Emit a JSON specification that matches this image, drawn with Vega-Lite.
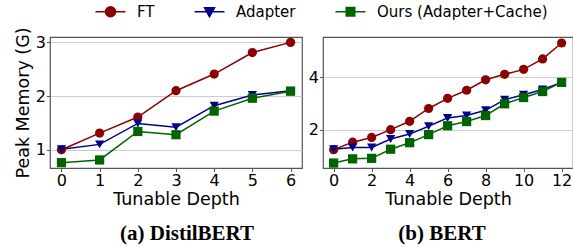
{
  "$schema": "https://vega.github.io/schema/vega-lite/v6.json",
  "padding": {"left": 13, "top": 4, "right": 0, "bottom": 2},
  "data": {"values": [
    {"model": "DistilBERT", "depth": 0, "method": "FT", "mem": 1.0},
    {"model": "DistilBERT", "depth": 1, "method": "FT", "mem": 1.31},
    {"model": "DistilBERT", "depth": 2, "method": "FT", "mem": 1.61},
    {"model": "DistilBERT", "depth": 3, "method": "FT", "mem": 2.1},
    {"model": "DistilBERT", "depth": 4, "method": "FT", "mem": 2.41},
    {"model": "DistilBERT", "depth": 5, "method": "FT", "mem": 2.81},
    {"model": "DistilBERT", "depth": 6, "method": "FT", "mem": 3.0},
    {"model": "DistilBERT", "depth": 0, "method": "Adapter", "mem": 1.01},
    {"model": "DistilBERT", "depth": 1, "method": "Adapter", "mem": 1.1},
    {"model": "DistilBERT", "depth": 2, "method": "Adapter", "mem": 1.49},
    {"model": "DistilBERT", "depth": 3, "method": "Adapter", "mem": 1.42},
    {"model": "DistilBERT", "depth": 4, "method": "Adapter", "mem": 1.82},
    {"model": "DistilBERT", "depth": 5, "method": "Adapter", "mem": 2.02},
    {"model": "DistilBERT", "depth": 6, "method": "Adapter", "mem": 2.1},
    {"model": "DistilBERT", "depth": 0, "method": "Ours (Adapter+Cache)", "mem": 0.76},
    {"model": "DistilBERT", "depth": 1, "method": "Ours (Adapter+Cache)", "mem": 0.81},
    {"model": "DistilBERT", "depth": 2, "method": "Ours (Adapter+Cache)", "mem": 1.34},
    {"model": "DistilBERT", "depth": 3, "method": "Ours (Adapter+Cache)", "mem": 1.28},
    {"model": "DistilBERT", "depth": 4, "method": "Ours (Adapter+Cache)", "mem": 1.72},
    {"model": "DistilBERT", "depth": 5, "method": "Ours (Adapter+Cache)", "mem": 1.96},
    {"model": "DistilBERT", "depth": 6, "method": "Ours (Adapter+Cache)", "mem": 2.09},
    {"model": "BERT", "depth": 0, "method": "FT", "mem": 1.23},
    {"model": "BERT", "depth": 1, "method": "FT", "mem": 1.52},
    {"model": "BERT", "depth": 2, "method": "FT", "mem": 1.7},
    {"model": "BERT", "depth": 3, "method": "FT", "mem": 2.0},
    {"model": "BERT", "depth": 4, "method": "FT", "mem": 2.32},
    {"model": "BERT", "depth": 5, "method": "FT", "mem": 2.81},
    {"model": "BERT", "depth": 6, "method": "FT", "mem": 3.2},
    {"model": "BERT", "depth": 7, "method": "FT", "mem": 3.51},
    {"model": "BERT", "depth": 8, "method": "FT", "mem": 3.91},
    {"model": "BERT", "depth": 9, "method": "FT", "mem": 4.12},
    {"model": "BERT", "depth": 10, "method": "FT", "mem": 4.31},
    {"model": "BERT", "depth": 11, "method": "FT", "mem": 4.71},
    {"model": "BERT", "depth": 12, "method": "FT", "mem": 5.32},
    {"model": "BERT", "depth": 0, "method": "Adapter", "mem": 1.25},
    {"model": "BERT", "depth": 1, "method": "Adapter", "mem": 1.32},
    {"model": "BERT", "depth": 2, "method": "Adapter", "mem": 1.32},
    {"model": "BERT", "depth": 3, "method": "Adapter", "mem": 1.64},
    {"model": "BERT", "depth": 4, "method": "Adapter", "mem": 1.83},
    {"model": "BERT", "depth": 5, "method": "Adapter", "mem": 2.13},
    {"model": "BERT", "depth": 6, "method": "Adapter", "mem": 2.45},
    {"model": "BERT", "depth": 7, "method": "Adapter", "mem": 2.54},
    {"model": "BERT", "depth": 8, "method": "Adapter", "mem": 2.74},
    {"model": "BERT", "depth": 9, "method": "Adapter", "mem": 3.15},
    {"model": "BERT", "depth": 10, "method": "Adapter", "mem": 3.34},
    {"model": "BERT", "depth": 11, "method": "Adapter", "mem": 3.54},
    {"model": "BERT", "depth": 12, "method": "Adapter", "mem": 3.81},
    {"model": "BERT", "depth": 0, "method": "Ours (Adapter+Cache)", "mem": 0.72},
    {"model": "BERT", "depth": 1, "method": "Ours (Adapter+Cache)", "mem": 0.88},
    {"model": "BERT", "depth": 2, "method": "Ours (Adapter+Cache)", "mem": 0.9},
    {"model": "BERT", "depth": 3, "method": "Ours (Adapter+Cache)", "mem": 1.25},
    {"model": "BERT", "depth": 4, "method": "Ours (Adapter+Cache)", "mem": 1.5},
    {"model": "BERT", "depth": 5, "method": "Ours (Adapter+Cache)", "mem": 1.81},
    {"model": "BERT", "depth": 6, "method": "Ours (Adapter+Cache)", "mem": 2.15},
    {"model": "BERT", "depth": 7, "method": "Ours (Adapter+Cache)", "mem": 2.31},
    {"model": "BERT", "depth": 8, "method": "Ours (Adapter+Cache)", "mem": 2.54},
    {"model": "BERT", "depth": 9, "method": "Ours (Adapter+Cache)", "mem": 2.99},
    {"model": "BERT", "depth": 10, "method": "Ours (Adapter+Cache)", "mem": 3.23},
    {"model": "BERT", "depth": 11, "method": "Ours (Adapter+Cache)", "mem": 3.46},
    {"model": "BERT", "depth": 12, "method": "Ours (Adapter+Cache)", "mem": 3.81}
  ]},
  "spacing": 21,
  "bounds": "flush",
  "hconcat": [
    {
      "width": 252,
      "height": 131,
      "title": {"text": "(a) DistilBERT", "orient": "bottom", "font": "Liberation Serif", "fontWeight": "bold", "fontSize": 21, "offset": 15, "dx": 11},
      "transform": [{"filter": "datum.model === 'DistilBERT'"}],
      "encoding": {
        "x": {"field": "depth", "type": "quantitative", "scale": {"domain": [-0.3, 6.3], "nice": false, "zero": false}, "axis": {"values": [0, 1, 2, 3, 4, 5, 6], "title": "Tunable Depth", "grid": false}},
        "y": {"field": "mem", "type": "quantitative", "scale": {"domain": [0.66, 3.1], "nice": false, "zero": false}, "axis": {"values": [1, 2, 3], "title": "Peak Memory (G)"}},
        "color": {"field": "method", "type": "nominal", "sort": ["FT", "Adapter", "Ours (Adapter+Cache)"], "legend": {"encode": {"symbols": {"update": {"shape": {"signal": "datum.value === 'FT' ? 'M-3,0H3M-1,0A1,1 0 1,0 1,0A1,1 0 1,0 -1,0Z' : datum.value === 'Adapter' ? 'M-3,0H3M-1,-0.8H1L0,1Z' : 'M-3,0H3M-0.85,-0.85H0.85V0.85H-0.85Z'"}, "stroke": {"signal": "datum.value === 'FT' ? '#8b0000' : datum.value === 'Adapter' ? '#00008b' : '#006400'"}, "fill": {"signal": "datum.value === 'FT' ? '#8b0000' : datum.value === 'Adapter' ? '#00008b' : '#006400'"}, "strokeWidth": {"value": 1.5}, "opacity": {"value": 1}}}}}}
      },
      "layer": [
        {"mark": {"type": "line", "strokeWidth": 1.5}},
        {"mark": {"type": "point", "filled": true, "opacity": 1, "size": 85}, "encoding": {"shape": {"field": "method", "type": "nominal", "sort": ["FT", "Adapter", "Ours (Adapter+Cache)"], "legend": null}}}
      ]
    },
    {
      "width": 250,
      "height": 131,
      "title": {"text": "(b) BERT", "orient": "bottom", "font": "Liberation Serif", "fontWeight": "bold", "fontSize": 21, "offset": 15, "dx": -6},
      "transform": [{"filter": "datum.model === 'BERT'"}],
      "encoding": {
        "x": {"field": "depth", "type": "quantitative", "scale": {"domain": [-0.56, 12.6], "nice": false, "zero": false}, "axis": {"values": [0, 2, 4, 6, 8, 10, 12], "title": "Tunable Depth", "grid": false}},
        "y": {"field": "mem", "type": "quantitative", "scale": {"domain": [0.53, 5.55], "nice": false, "zero": false}, "axis": {"values": [2, 4], "title": null}},
        "color": {"field": "method", "type": "nominal", "sort": ["FT", "Adapter", "Ours (Adapter+Cache)"]}
      },
      "layer": [
        {"mark": {"type": "line", "strokeWidth": 1.5}},
        {"mark": {"type": "point", "filled": true, "opacity": 1, "size": 85}, "encoding": {"shape": {"field": "method", "type": "nominal", "sort": ["FT", "Adapter", "Ours (Adapter+Cache)"], "legend": null}}}
      ]
    }
  ],
  "resolve": {"scale": {"x": "independent", "y": "independent"}},
  "config": {
    "font": "DejaVu Sans",
    "view": {"stroke": "#555555", "strokeWidth": 1.2},
    "range": {"category": ["#8b0000", "#00008b", "#006400"], "symbol": ["circle", "triangle-down", "square"]},
    "axis": {
      "domain": false,
      "tickColor": "#555555",
      "tickSize": 3.5,
      "labelFontSize": 16,
      "labelColor": "#000000",
      "labelPadding": 1,
      "titleFontSize": 17.5,
      "titleFontWeight": "normal",
      "titleColor": "#000000",
      "gridColor": "#cccccc",
      "gridWidth": 1.2
    },
    "axisX": {"titlePadding": 2},
    "axisY": {"titlePadding": 3},
    "legend": {
      "orient": "none",
      "legendX": 53,
      "legendY": -33,
      "padding": 0,
      "direction": "horizontal",
      "title": null,
      "labelFontSize": 15,
      "labelColor": "#000000",
      "labelLimit": 400,
      "symbolSize": 100,
      "symbolStrokeWidth": 1.5,
      "columnPadding": 36,
      "labelOffset": 19
    }
  }
}
